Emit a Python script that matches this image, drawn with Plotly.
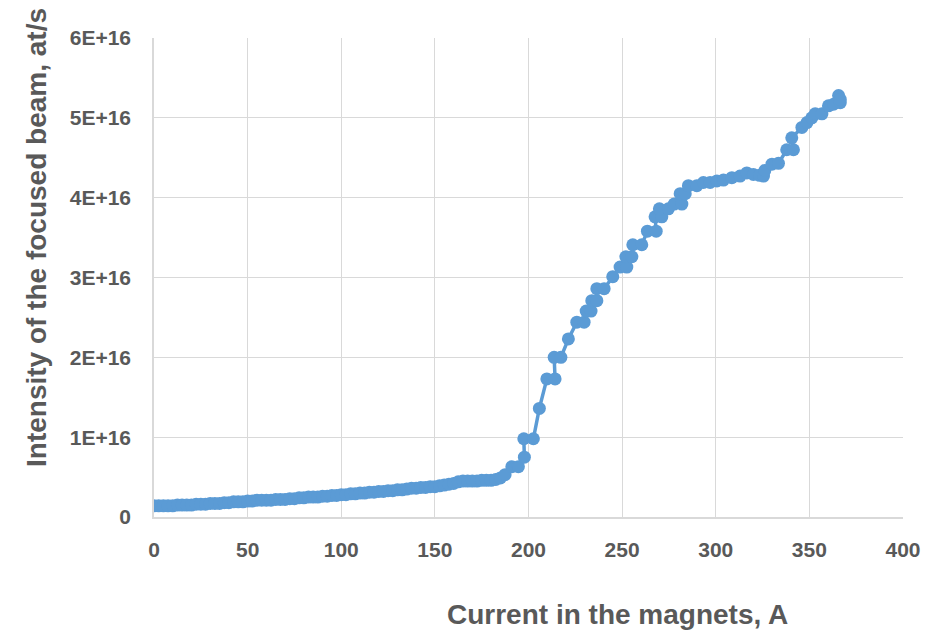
import plotly.graph_objects as go

# Current in the magnets, A
current_a = [
    0, 2.5, 5, 7.5, 10, 12.5, 15, 17.5, 20, 22.5, 25, 27.5, 30, 32.5, 35, 37.5,
    40, 42.5, 45, 47.5, 50, 52.5, 55, 57.5, 60, 62.5, 65, 67.5, 70, 72.5, 75, 77.5,
    80, 82.5, 85, 87.5, 90, 92.5, 95, 97.5, 100, 102.5, 105, 107.5, 110, 112.5, 115,
    117.5, 120, 122.5, 125, 127.5, 130, 132.5, 135, 137.5, 140, 142.5, 145, 147.5,
    150, 152.5, 155, 157.5, 160, 162.5, 165, 167.5, 170, 172.5, 175, 177.5, 180,
    182.5, 185, 187.5,
    191.1, 194.6, 197.8, 197.5, 202.6, 205.8, 209.8, 214.2, 213.7, 217.3, 221.3,
    225.8, 229.7, 230.8, 233.4, 233.8, 236.5, 236.5, 240.4, 245.0, 248.9, 252.5,
    252.0, 255.2, 255.7, 260.5, 263.5, 268.2, 267.6, 271.2, 269.9, 274.7, 277.8,
    281.9, 281.0, 283.7, 285.4, 289.9, 293.4, 297.0, 300.6, 304.1, 308.6, 313.0,
    316.6, 320.1, 323.4, 325.5, 326.2, 330.0, 333.5, 337.9, 341.5, 340.6, 346.0,
    348.7, 351.3, 353.1, 356.7, 360.2, 362.9, 365.6, 366.5, 366.5,
]

# Intensity of the focused beam, in units of 1E+16 at/s
intensity_e16 = [
    0.14, 0.14, 0.14, 0.14, 0.14, 0.15, 0.15, 0.15, 0.15, 0.16, 0.16, 0.16, 0.17, 0.17, 0.17, 0.18,
    0.18, 0.19, 0.19, 0.19, 0.20, 0.20, 0.21, 0.21, 0.21, 0.21, 0.22, 0.22, 0.22, 0.23, 0.23, 0.24,
    0.24, 0.25, 0.25, 0.25, 0.26, 0.26, 0.27, 0.27, 0.28, 0.28, 0.29, 0.29, 0.30, 0.30, 0.31,
    0.31, 0.32, 0.32, 0.33, 0.33, 0.34, 0.34, 0.35, 0.36, 0.36, 0.37, 0.37, 0.38,
    0.38, 0.39, 0.40, 0.41, 0.42, 0.44, 0.45, 0.45, 0.45, 0.45, 0.46, 0.46, 0.46,
    0.47, 0.49, 0.53,
    0.63, 0.63, 0.75, 0.98, 0.98, 1.36, 1.73, 1.73, 2.00, 2.00, 2.23,
    2.44, 2.44, 2.58, 2.58, 2.71, 2.71, 2.86, 2.86, 3.01, 3.13, 3.13,
    3.26, 3.26, 3.41, 3.41, 3.58, 3.58, 3.76, 3.76, 3.86, 3.86, 3.92,
    3.92, 4.05, 4.05, 4.15, 4.15, 4.19, 4.19, 4.21, 4.22, 4.25, 4.27,
    4.31, 4.29, 4.28, 4.27, 4.34, 4.42, 4.43, 4.60, 4.60, 4.75, 4.88,
    4.94, 5.00, 5.05, 5.05, 5.15, 5.17, 5.28, 5.19, 5.23,
]

x_tick_vals = [0, 50, 100, 150, 200, 250, 300, 350, 400]
y_tick_vals_e16 = [0, 1, 2, 3, 4, 5, 6]
y_tick_labels = ["0", "1E+16", "2E+16", "3E+16", "4E+16", "5E+16", "6E+16"]

x_title = "Current in the magnets, A"
y_title = "Intensity of the focused beam, at/s"

intensity = [v * 1e16 for v in intensity_e16]
y_tick_vals = [v * 1e16 for v in y_tick_vals_e16]

BLUE = "#5B9BD5"
TEXT = "#595959"
GRID = "#d9d9d9"
FONT = "Liberation Sans, Arial, sans-serif"

fig = go.Figure()
fig.add_trace(go.Scatter(
    x=current_a, y=intensity, mode="lines+markers",
    line=dict(color=BLUE, width=3.5),
    marker=dict(color=BLUE, size=13),
    showlegend=False, hoverinfo="x+y",
))

fig.update_layout(
    width=940, height=631,
    margin=dict(l=154, r=37, t=38, b=114),
    paper_bgcolor="white", plot_bgcolor="white",
    font=dict(family=FONT, color=TEXT, size=22),
    xaxis=dict(
        range=[0, 400], tickvals=x_tick_vals,
        showgrid=True, gridcolor=GRID, gridwidth=1,
        showline=True, linecolor=GRID, linewidth=1.5,
        zeroline=False, ticks="outside", ticklen=13, tickcolor="rgba(0,0,0,0)",
        tickfont=dict(family=FONT, size=21, color=TEXT, weight="bold"),
    ),
    yaxis=dict(
        range=[0, 6e16], tickvals=y_tick_vals, ticktext=y_tick_labels,
        showgrid=True, gridcolor=GRID, gridwidth=1,
        showline=True, linecolor=GRID, linewidth=1.5,
        zeroline=False, ticks="outside", ticklen=17, tickcolor="rgba(0,0,0,0)",
        tickfont=dict(family=FONT, size=21, color=TEXT, weight="bold"),
    ),
    annotations=[
        dict(text=x_title, xref="paper", yref="paper",
             x=(617 - 154) / 749, y=(517 - 614) / 479,
             xanchor="center", yanchor="middle", showarrow=False,
             font=dict(family=FONT, size=28, color=TEXT, weight="bold")),
        dict(text=y_title, xref="paper", yref="paper",
             x=(36 - 154) / 749, y=(517 - 238) / 479, textangle=-90,
             xanchor="center", yanchor="middle", showarrow=False,
             font=dict(family=FONT, size=28, color=TEXT, weight="bold")),
    ],
)

fig.write_html("out.html")
